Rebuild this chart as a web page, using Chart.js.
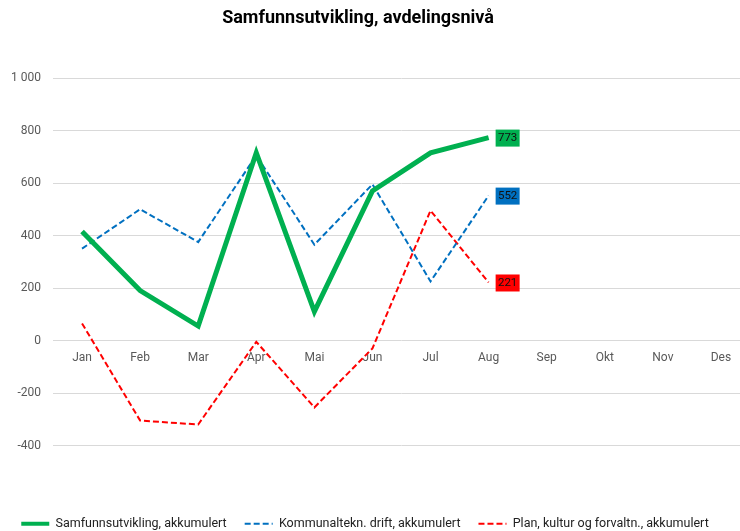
<!DOCTYPE html>
<html>
<head>
<meta charset="utf-8">
<script src="https://cdn.jsdelivr.net/npm/chart.js@4.4.1/dist/chart.umd.min.js"></script>
<style>
  html, body { margin: 0; padding: 0; background: #fff; overflow: hidden; }
  #wrap { width: 740px; height: 531px; overflow: hidden; }
</style>
</head>
<body>
<div id="wrap"><canvas id="chart" width="750" height="531"></canvas></div>
<script>
// data
var months = ['Jan', 'Feb', 'Mar', 'Apr', 'Mai', 'Jun', 'Jul', 'Aug', 'Sep', 'Okt', 'Nov', 'Des']
var samfunn = [415, 190, 55, 715, 110, 570, 715, 773]
var kommunal = [350, 500, 375, 705, 365, 595, 225, 552]
var plan = [65, -305, -320, -5, -255, -30, 495, 221]
var yTicks = [-400, -200, 0, 200, 400, 600, 800, 1000]
var title = 'Samfunnsutvikling, avdelingsnivå'

var FONT = "'Roboto', 'Liberation Sans', sans-serif"

// title + end labels drawn on top, legend moved down a bit
var extras = {
    id: 'extras',
    afterLayout: function (chart) {
        var lg = chart.legend
        lg.top += 54
        lg.bottom += 54
        lg.left -= 10
        lg.right -= 10
    },
    afterDraw: function (chart) {
        var ctx = chart.ctx
        ctx.save()
        ctx.font = "bold 18px " + FONT
        ctx.fillStyle = '#000'
        ctx.textAlign = 'center'
        ctx.textBaseline = 'middle'
        ctx.fillText(title, 358, 18)
        chart.data.datasets.forEach(function (ds, i) {
            var meta = chart.getDatasetMeta(i)
            var last = ds.data.length - 1
            var pt = meta.data[last]
            ctx.fillStyle = ds.borderColor
            ctx.fillRect(pt.x + 7, pt.y - 8, 24, 17)
            ctx.font = "11.5px " + FONT
            ctx.fillStyle = '#111'
            ctx.textAlign = 'center'
            ctx.fillText(String(ds.data[last]), pt.x + 19, pt.y + 0.5)
        })
        ctx.restore()
    }
}

var chart = new Chart(document.getElementById('chart'), {
    type: 'line',
    data: {
        labels: months,
        datasets: [{
            label: 'Samfunnsutvikling, akkumulert',
            data: samfunn,
            borderColor: '#00b050',
            backgroundColor: '#00b050',
            borderWidth: 5,
            pointRadius: 0
        }, {
            label: 'Kommunaltekn. drift, akkumulert',
            data: kommunal,
            borderColor: '#0070c0',
            backgroundColor: '#0070c0',
            borderWidth: 2,
            borderDash: [6, 3],
            pointRadius: 0
        }, {
            label: 'Plan, kultur og forvaltn., akkumulert',
            data: plan,
            borderColor: '#ff0000',
            backgroundColor: '#ff0000',
            borderWidth: 2,
            borderDash: [6, 3],
            pointRadius: 0
        }]
    },
    options: {
        responsive: false,
        animation: false,
        layout: { padding: { top: 78, left: 0, right: 0, bottom: 45 } },
        plugins: {
            title: { display: false },
            tooltip: { enabled: false },
            legend: {
                position: 'bottom',
                labels: {
                    usePointStyle: true,
                    pointStyle: 'line',
                    pointStyleWidth: 28,
                    padding: 18,
                    color: '#222',
                    font: { family: FONT, size: 12.5 },
                    generateLabels: function (chart) {
                        var items = Chart.defaults.plugins.legend.labels.generateLabels(chart)
                        items.forEach(function (it) {
                            var ds = chart.data.datasets[it.datasetIndex]
                            it.lineDash = ds.borderDash || []
                            it.lineWidth = ds.borderWidth == 5 ? 4 : ds.borderWidth
                            it.strokeStyle = ds.borderColor
                        })
                        return items
                    }
                }
            }
        },
        scales: {
            x: {
                position: { y: 0 },
                offset: true,
                grid: { display: false, drawTicks: false },
                border: { display: false },
                ticks: { color: '#595959', padding: 10, font: { family: FONT, size: 12 } }
            },
            y: {
                min: -400,
                max: 1000,
                afterBuildTicks: function (scale) {
                    scale.ticks = yTicks.map(function (v) { return { value: v } })
                },
                afterFit: function (scale) { scale.width = 53 },
                grid: { color: '#d9d9d9', lineWidth: 1, drawTicks: false },
                border: { display: false },
                ticks: {
                    color: '#595959',
                    padding: 12,
                    font: { family: FONT, size: 12 },
                    callback: function (v) {
                        return v >= 1000 ? '1 000' : String(v)
                    }
                }
            }
        }
    },
    plugins: [extras]
})
</script>
</body>
</html>
